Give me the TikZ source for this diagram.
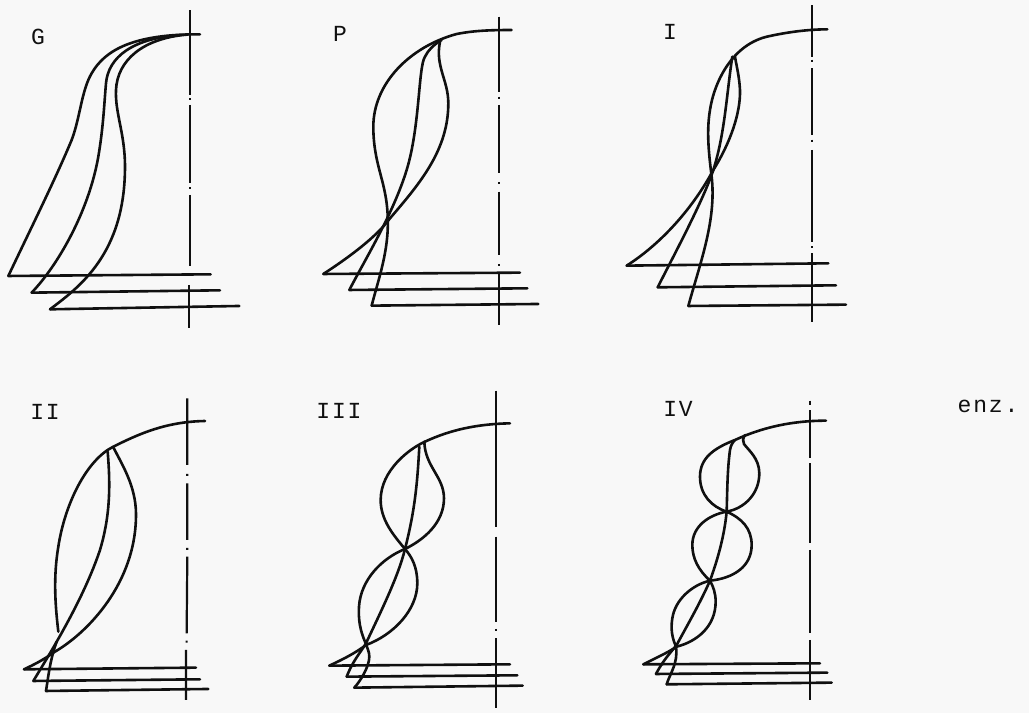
\documentclass[tikz,border=0pt]{standalone}
\usepackage{fontspec}
\newfontfamily\labelfont[LetterSpace=8]{Liberation Mono}
\definecolor{paper}{HTML}{F8F8F8}
\definecolor{ink}{HTML}{101010}
\tikzset{
  curveline/.style={draw=ink,line width=2.6pt,line cap=round,line join=round},
  baseline/.style={draw=ink,line width=2.6pt,line cap=round},
  axisline/.style={draw=ink,line width=2.2pt},
  panellabel/.style={font=\labelfont\fontsize{23}{23}\selectfont,text=ink,inner sep=0pt},
  panel/.style={x=0.3333pt,y=-0.3333pt}
}
\begin{document}
\begin{tikzpicture}[x=1pt,y=-1pt]
  \fill[paper] (0,0) rectangle (1029,713);
  \useasboundingbox (0,0) rectangle (1029,713);
  \node[panellabel] (labelG) at (38,37) {G};
  \node[panellabel] (labelP) at (340,34) {P};
  \node[panellabel] (labelI) at (670,32) {I};
  \node[panellabel] (labelII) at (45,412) {II};
  \node[panellabel] (labelIII) at (339,411) {III};
  \node[panellabel] (labelIV) at (678,409) {IV};
  \node[panellabel] (labelenz) at (988,406) {enz.};
  % G
  \begin{scope}[shift={(0,0)},panel]
    \draw[axisline] (570,30) -- (570,285) (570,295) -- (570,301) (570,315) -- (570,550) (570,562) -- (570,568) (570,585) -- (570,798) (568,855) -- (568,985);
    \draw[baseline] (25,828) -- (632,823);
    \draw[baseline] (95,878) -- (660,871);
    \draw[baseline] (150,928) -- (718,918);
    \draw[curveline] (25,828) .. controls (95,680) and (165,540) .. (215,420) .. controls (240,355) and (245,270) .. (275,220) .. controls (315,150) and (400,102) .. (600,103);
    \draw[curveline] (95,878) .. controls (170,800) and (265,640) .. (295,470) .. controls (310,380) and (312,320) .. (318,250) .. controls (325,170) and (400,115) .. (540,105);
    \draw[curveline] (150,928) .. controls (240,860) and (375,760) .. (375,500) .. controls (375,400) and (345,340) .. (348,270) .. controls (352,180) and (430,115) .. (560,104);
  \end{scope}
  % P
  \begin{scope}[shift={(310,0)},panel]
    \draw[axisline] (567,50) -- (567,275) (567,290) -- (567,296) (567,315) -- (567,520) (567,547) -- (567,553) (567,575) -- (567,765) (567,792) -- (567,798) (567,815) -- (567,975);
    \draw[baseline] (40,822) -- (630,818);
    \draw[baseline] (118,870) -- (652,865);
    \draw[baseline] (185,917) -- (685,912);
    \draw[curveline] (40,822) .. controls (120,770) and (200,710) .. (240,655) .. controls (330,550) and (415,450) .. (415,310) .. controls (415,240) and (375,200) .. (390,125);
    \draw[curveline] (185,917) .. controls (210,820) and (245,730) .. (230,610) .. controls (220,530) and (190,480) .. (190,380) .. controls (190,250) and (300,140) .. (440,102) .. controls (490,92) and (540,90) .. (605,90);
    \draw[curveline] (118,870) .. controls (170,770) and (250,640) .. (290,510) .. controls (330,380) and (325,200) .. (345,170) .. controls (355,150) and (370,135) .. (395,120);
  \end{scope}
  % I
  \begin{scope}[shift={(610,0)},panel]
    \draw[axisline] (606,15) -- (606,170) (606,179) -- (606,185) (606,205) -- (606,405) (606,419) -- (606,425) (606,450) -- (606,725) (606,739) -- (606,745) (606,760) -- (606,965);
    \draw[baseline] (50,797) -- (655,790);
    \draw[baseline] (143,862) -- (678,856);
    \draw[baseline] (235,918) -- (708,914);
    \draw[curveline] (50,797) .. controls (140,740) and (240,640) .. (310,510) .. controls (360,430) and (392,340) .. (390,270) .. controls (388,230) and (380,200) .. (375,170);
    \draw[curveline] (235,918) .. controls (270,790) and (320,660) .. (305,530) .. controls (295,450) and (290,390) .. (300,330) .. controls (312,250) and (365,130) .. (480,108) .. controls (540,95) and (600,88) .. (652,88);
    \draw[curveline] (143,862) .. controls (200,750) and (280,600) .. (310,510) .. controls (345,400) and (350,280) .. (367,170);
  \end{scope}
  % II
  \begin{scope}[shift={(0,370)},panel]
    \draw[axisline] (562,85) -- (562,285) (562,312) -- (562,318) (562,340) -- (562,510) (562,534) -- (562,540) (562,560) -- (560,790) (560,812) -- (560,818) (558,840) -- (558,990);
    \draw[baseline] (72,898) -- (588,893);
    \draw[baseline] (100,933) -- (600,928);
    \draw[baseline] (138,963) -- (625,957);
    \draw[curveline] (72,898) .. controls (100,885) and (130,870) .. (165,845) .. controls (260,790) and (410,640) .. (408,430) .. controls (407,350) and (370,290) .. (340,232);
    \draw[curveline] (138,963) .. controls (145,920) and (150,870) .. (170,815);
    \draw[curveline] (175,785) .. controls (165,700) and (160,620) .. (175,530) .. controls (195,400) and (260,270) .. (340,230) .. controls (420,190) and (500,155) .. (615,153);
    \draw[curveline] (100,933) .. controls (150,850) and (250,690) .. (300,540) .. controls (330,440) and (332,350) .. (323,245);
  \end{scope}
  % III
  \begin{scope}[shift={(310,370)},panel]
    \draw[axisline] (557,62) -- (557,470) (557,500) -- (557,755) (557,777) -- (557,783) (557,805) -- (557,1015);
    \draw[baseline] (58,887) -- (600,883);
    \draw[baseline] (110,920) -- (622,916);
    \draw[baseline] (133,953) -- (638,947);
    \draw[curveline] (58,887) .. controls (95,870) and (135,850) .. (168,825) .. controls (250,795) and (322,720) .. (322,640) .. controls (322,590) and (305,560) .. (285,537) .. controls (250,495) and (212,450) .. (212,390) .. controls (212,300) and (300,235) .. (345,215) .. controls (420,180) and (500,162) .. (600,160);
    \draw[curveline] (133,953) .. controls (150,935) and (178,890) .. (178,860) .. controls (178,845) and (172,835) .. (165,815) .. controls (150,780) and (145,750) .. (147,710) .. controls (152,630) and (215,565) .. (285,537) .. controls (340,510) and (402,460) .. (402,385) .. controls (402,320) and (345,290) .. (343,215);
    \draw[curveline] (110,920) .. controls (130,870) and (150,850) .. (168,820) .. controls (210,730) and (265,620) .. (285,537) .. controls (315,420) and (322,340) .. (328,230);
  \end{scope}
  % IV
  \begin{scope}[shift={(620,370)},panel]
    \draw[axisline] (571,92) -- (571,105) (571,120) -- (571,265) (571,280) -- (571,520) (571,540) -- (571,790) (571,810) -- (571,990);
    \draw[baseline] (70,883) -- (600,880);
    \draw[baseline] (108,912) -- (622,908);
    \draw[baseline] (140,943) -- (635,938);
    \draw[curveline] (70,883) .. controls (105,865) and (140,850) .. (170,830) .. controls (230,815) and (287,770) .. (287,695) .. controls (287,670) and (280,650) .. (270,632) .. controls (235,600) and (217,565) .. (217,525) .. controls (217,470) and (265,435) .. (320,425) .. controls (375,415) and (418,370) .. (418,310) .. controls (418,265) and (385,240) .. (372,222) .. controls (368,215) and (368,205) .. (375,195);
    \draw[curveline] (140,943) .. controls (150,910) and (175,880) .. (168,830) .. controls (150,790) and (155,760) .. (157,745) .. controls (165,690) and (215,645) .. (270,632) .. controls (340,625) and (395,590) .. (395,525) .. controls (395,475) and (365,445) .. (320,425) .. controls (275,410) and (240,375) .. (240,320) .. controls (240,265) and (280,235) .. (345,210) .. controls (420,175) and (510,152) .. (618,152);
    \draw[curveline] (108,912) .. controls (130,870) and (150,850) .. (170,825) .. controls (205,760) and (240,700) .. (270,632) .. controls (300,550) and (315,480) .. (320,425) .. controls (322,360) and (322,300) .. (330,240) .. controls (332,225) and (340,215) .. (345,210);
  \end{scope}
\end{tikzpicture}
\end{document}
